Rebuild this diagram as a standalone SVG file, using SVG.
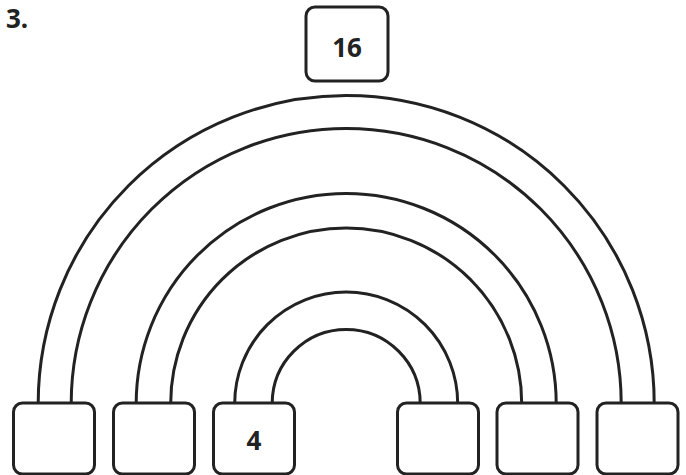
<svg xmlns="http://www.w3.org/2000/svg" width="686" height="475" viewBox="0 0 686 475">
<style>
.box{fill:#fff;stroke:#222;stroke-width:3}
.arc{fill:none;stroke:#222;stroke-width:3}
.num{font-family:"Noto Sans","DejaVu Sans",sans-serif;font-weight:bold;font-size:26px;fill:#222;text-anchor:middle}
.title{font-family:"Noto Sans","DejaVu Sans",sans-serif;font-weight:bold;font-size:26px;fill:#222}
</style>
<rect width="686" height="475" fill="#fff"/>
<text class="title" x="6" y="28">3.</text>
<g id="connectors">
<path class="arc" d="M38.2,403.5 A308,308 0 0 1 654.2,403.5"/>
<path class="arc" d="M71.2,403.5 A275,275 0 0 1 621.2,403.5"/>
<path class="arc" d="M136.2,403.5 A210,210 0 0 1 556.2,403.5"/>
<path class="arc" d="M170.7,403.5 A175.5,175.5 0 0 1 521.7,403.5"/>
<path class="arc" d="M234.7,403.5 A111.5,111.5 0 0 1 457.7,403.5"/>
<path class="arc" d="M272.2,403.5 A74,74 0 0 1 420.2,403.5"/>
</g>
<g id="top"><rect class="box" x="306" y="7" width="82" height="74" rx="9"/><text class="num" x="347" y="57">16</text></g>
<g id="b1"><rect class="box" x="13.5" y="403" width="81" height="71" rx="9"/></g>
<g id="b2"><rect class="box" x="113.5" y="403" width="81" height="71" rx="9"/></g>
<g id="b3"><rect class="box" x="213.5" y="403" width="81" height="71" rx="9"/><text class="num" x="254" y="450">4</text></g>
<g id="b4"><rect class="box" x="397.5" y="403" width="81" height="71" rx="9"/></g>
<g id="b5"><rect class="box" x="497" y="403" width="81" height="71" rx="9"/></g>
<g id="b6"><rect class="box" x="597" y="403" width="81" height="71" rx="9"/></g>
</svg>
